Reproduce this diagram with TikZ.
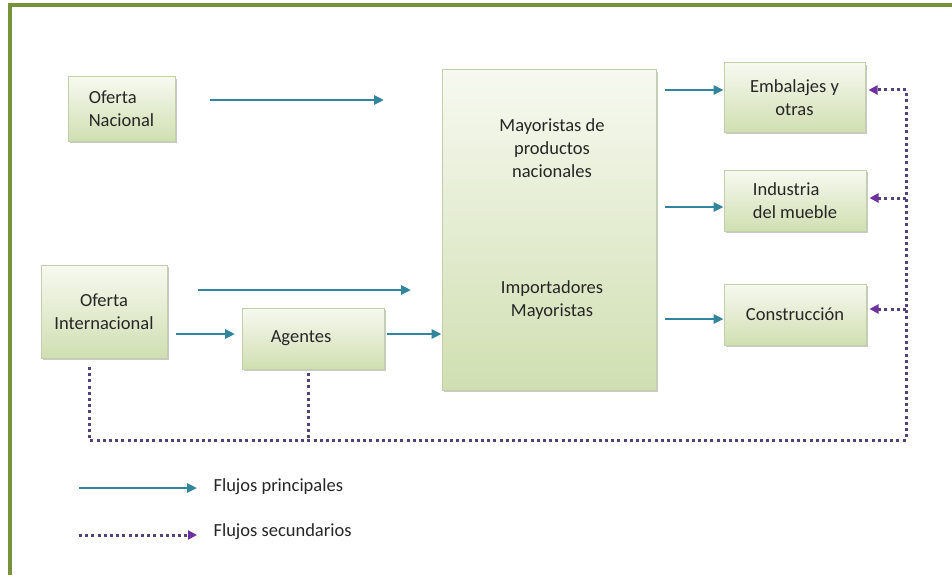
\documentclass[tikz,border=0pt]{standalone}
\usepackage{fontspec}
\setmainfont{Carlito}
\usetikzlibrary{arrows.meta,shadows}
\definecolor{frameg}{HTML}{77933C}
\definecolor{teal1}{HTML}{31859C}
\definecolor{purp}{HTML}{54437A}
\definecolor{purpa}{HTML}{7030A0}
\definecolor{boxtop}{HTML}{F7F9F0}
\definecolor{boxbot}{HTML}{D0DFB2}
\definecolor{boxline}{HTML}{C3CFAB}
\tikzset{
  bx/.style={draw=boxline, line width=1pt, top color=boxtop, bottom color=boxbot,
    drop shadow={shadow xshift=1.5pt, shadow yshift=-2pt, fill=black!35, opacity=0.6},
    font=\fontsize{18.5}{23}\selectfont, text=black!85},
  txt/.style={font=\fontsize{18.5}{23}\selectfont, text=black!85},
  main/.style={draw=teal1, line width=2.6pt, -{Triangle[length=10pt,width=9pt]}},
  sec/.style={draw=purp, line width=3pt, dash pattern=on 3pt off 3.2pt},
  secarr/.style={sec, -{Triangle[length=9pt,width=9pt,fill=purpa,color=purpa]}},
  lbl/.style={font=\fontsize{18.5}{22}\selectfont, text=black!85, anchor=west}
}
\begin{document}
\begin{tikzpicture}[x=1pt,y=-1pt]
\useasboundingbox (0,0) rectangle (952,575);
\fill[white] (0,0) rectangle (952,575);
% frame
\draw[frameg, line width=3.5pt] (10,575) -- (10,5) -- (952,5);

% boxes
\node[bx, minimum width=107pt, minimum height=64pt, align=left] (on) at (121.5,109) {Oferta\\Nacional};
\node[bx, minimum width=214pt, minimum height=320pt] (may) at (549,230) {};
\node[txt, align=center] (tmay) at (552,148) {Mayoristas de\\productos\\nacionales};
\node[txt, align=center] (timp) at (552,300) {Importadores\\Mayoristas};
\node[bx, minimum width=126pt, minimum height=93pt, align=center] (oi) at (104,311.5) {Oferta\\Internacional};
\node[bx, minimum width=142pt, minimum height=61pt] (ag) at (313,338.5) {\hspace*{-24pt}Agentes};
\node[bx, minimum width=141pt, minimum height=69pt, align=center] (emb) at (794.5,97.5) {Embalajes y\\otras};
\node[bx, minimum width=142pt, minimum height=61pt, align=left] (ind) at (795,200.5) {Industria\\del mueble};
\node[bx, minimum width=142pt, minimum height=61pt] (con) at (795,314.5) {Construcción};

% main flows
\coordinate (a1s) at (210,100); \coordinate (a1e) at (384,100);
\draw[main] (a1s) -- (a1e);
\coordinate (a2s) at (198,290); \coordinate (a2e) at (411,290);
\draw[main] (a2s) -- (a2e);
\draw[main] (oi.east |- 0,334) ++(8,0) coordinate (a3s) -- (235,334) coordinate (a3e);
\draw[main] ([xshift=2pt]ag.east |- 0,334) -- (may.west |- 0,334);
\draw[main] (665,90) -- (emb.west |- 0,90);
\draw[main] (665,207) -- (ind.west |- 0,207);
\draw[main] (665,319) -- (con.west |- 0,319);

% secondary flows
\coordinate (c1) at (89,440);
\coordinate (c2) at (308,440);
\coordinate (c3) at (906,440);
\coordinate (c4) at (906,90);
\draw[sec] (89,367) -- (c1) -- (c3) -- (c4);
\draw[sec] (308,373) -- (c2);
\draw[secarr] (c4) -- ([xshift=3pt]emb.east |- c4);
\draw[secarr] (906,198) -- ([xshift=3pt]ind.east |- 0,198);
\draw[secarr] (906,309) -- ([xshift=3pt]con.east |- 0,309);

% legend
\draw[main] (79,488) coordinate (l1s) -- (197,488) coordinate (l1e);
\node[lbl] (lt1) at (210,487) {Flujos principales};
\draw[secarr] (79,535) coordinate (l2s) -- (197,535) coordinate (l2e);
\node[lbl] (lt2) at (210,532) {Flujos secundarios};
\end{tikzpicture}
\end{document}
